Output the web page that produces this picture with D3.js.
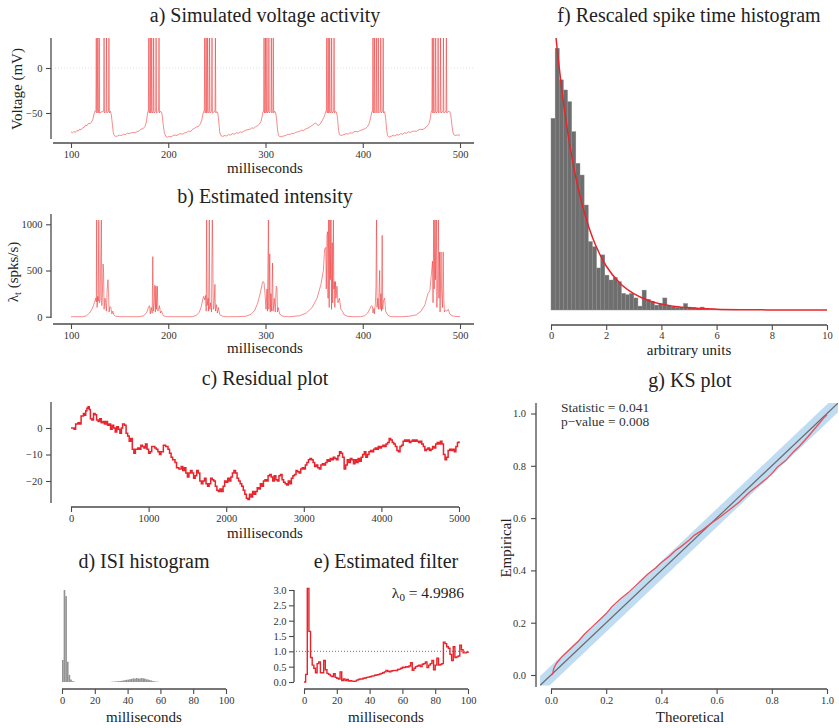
<!DOCTYPE html>
<html>
<head>
<meta charset="utf-8">
<script src="https://cdn.jsdelivr.net/npm/d3@7"></script>
<style>
  body { margin: 0; background: #fff; }
  svg { display: block; }
</style>
</head>
<body>
<svg id="fig" width="839" height="728"></svg>
<script>
// ---------------- data ----------------

// a) membrane voltage, [ms, mV]; spike peaks run off the top of the panel
const voltageTrace = [
[100,-71],[101.5,-72],[103,-70.5],[104.5,-71.5],[106,-69.5],[107.5,-70],[109,-68],[110.5,-68.5],[112,-66.5],[113.5,-66],[115,-63.5],[116.5,-64],[118,-61.5],[119.5,-62],[121,-60],[122.5,-57],[123.5,-52],[124.5,-48],
[125.6,-48],[126,38],[126.4,-50],[127.1,-48],[127.5,38],[127.9,-50],[128.6,-48],[129,38],[129.4,-50],[131,-49],[133.6,-48],[134,38],[134.4,-50],[136.1,-48],[136.5,38],[136.9,-50],[138.6,-48],[139,38],[139.4,-50],
[140.5,-48],[141.5,-52],[142.5,-62],[143.5,-72],[144.5,-75],[146,-76],[148,-75.5],[150,-74.5],[152,-75],[154,-73.5],[156,-74],[158,-72.5],[160,-73],[162,-72],[164,-71.5],[166,-72],[168,-70.5],[170,-70],[172,-68],[174,-67.5],[176,-65],[177.5,-60],[178.5,-52],[179.2,-48],
[179.6,-48],[180,38],[180.4,-50],[181.1,-48],[181.5,38],[181.9,-50],[182.6,-48],[183,38],[183.4,-50],[184.6,-48],[185,38],[185.4,-50],[187.1,-48],[187.5,38],[187.9,-50],[190.1,-48],[190.5,38],[190.9,-50],
[192,-48],[193.5,-50],[194.5,-60],[196,-72],[197.5,-76],[199,-77],[201,-76],[203,-76.5],[205,-75],[207,-74.5],[209,-75],[211,-73.5],[213,-73],[215,-73.5],[217,-72],[219,-71.5],[221,-70],[223,-70.5],[225,-68],[227,-67],[229,-65.5],[231,-65],[233,-62],[234.5,-58],[235.5,-52],[236.5,-48],
[237.1,-48],[237.5,38],[237.9,-50],[238.6,-48],[239,38],[239.4,-50],[240.1,-48],[240.5,38],[240.9,-50],[242.1,-48],[242.5,38],[242.9,-50],[244.6,-48],[245,38],[245.4,-50],[248.1,-48],[248.5,38],[248.9,-50],
[250,-48.5],[251,-50],[252,-60],[253,-72],[254.5,-75.5],[256,-76],[258,-75],[260,-75.5],[262,-74],[264,-74.5],[266,-73],[268,-73.5],[270,-72],[272,-72.5],[274,-71],[276,-71.5],[278,-70],[280,-69],[282,-68.5],[284,-68],[286,-66.5],[288,-67],[290,-65],[292,-64],[294,-62],[295.5,-59],[296.5,-54],[297.5,-48],
[298.1,-48],[298.5,38],[298.9,-50],[299.6,-48],[300,38],[300.4,-50],[301.1,-48],[301.5,38],[301.9,-50],[303.1,-48],[303.5,38],[303.9,-50],[305.6,-48],[306,38],[306.4,-50],[307.6,-48],[308,38],[308.4,-50],
[309.5,-48],[310.5,-50],[311.5,-58],[312.5,-70],[313.5,-75],[315,-76.5],[317,-76],[319,-75.5],[321,-75],[323,-73.5],[325,-74],[327,-72.5],[329,-73],[331,-71.5],[333,-71],[335,-70.5],[337,-69],[339,-69.5],[341,-68],[343,-67],[345,-66],[347,-64.5],[349,-63],[351,-61],[352.5,-62],[354,-64],[355.5,-63],[357,-61],[358.5,-58],[360,-55],[361,-52],[362,-48],
[362.6,-48],[363,38],[363.4,-50],[364.1,-48],[364.5,38],[364.9,-50],[365.6,-48],[366,38],[366.4,-50],[367.6,-48],[368,38],[368.4,-50],[370.1,-48],[370.5,38],[370.9,-50],
[372,-48],[373,-49],[374,-55],[375,-68],[376,-74],[377.5,-75],[379,-74.5],[381,-74],[383,-73],[385,-73.5],[387,-72],[389,-72.5],[391,-71],[393,-70.5],[395,-71],[397,-69.5],[399,-69],[401,-68],[403,-67],[405,-65],[406.5,-62],[407.5,-58],[408.5,-53],[409.5,-48],
[410.1,-48],[410.5,38],[410.9,-50],[411.6,-48],[412,38],[412.4,-50],[413.6,-48],[414,38],[414.4,-50],[415.6,-48],[416,38],[416.4,-50],[418.1,-48],[418.5,38],[418.9,-50],[420.6,-48],[421,38],[421.4,-50],
[422.5,-48.5],[423.5,-55],[424.5,-68],[425.5,-75],[427,-77],[429,-76],[431,-75],[433,-75.5],[435,-74],[437,-74.5],[439,-73],[441,-73.5],[443,-72],[445,-72.5],[447,-71],[449,-71.5],[451,-70.5],[453,-70],[455,-70.5],[457,-69],[459,-68],[461,-68.5],[463,-67.5],[465,-66],[466.5,-64],[468,-62],[469.5,-56],[470.5,-48],
[471.1,-48],[471.5,38],[471.9,-50],[472.6,-48],[473,38],[473.4,-50],[474.6,-48],[475,38],[475.4,-50],[477.1,-48],[477.5,38],[477.9,-50],[479.6,-48],[480,38],[480.4,-50],[482.6,-48],[483,38],[483.4,-50],[485.6,-48],[486,38],[486.4,-50],
[488,-48],[489.5,-48.5],[490.5,-52],[491.5,-62],[492.5,-70],[493.5,-74],[495,-75],[497,-74.5],[499,-74.5],[500,-74.5]
];
const voltageTicks = [-50, 0];
const timeTicks = [100, 200, 300, 400, 500];

// b) conditional intensity, [ms, spikes/s]; values above the panel top are clipped
const intensityTrace = [
[100,0],[112,0],[116,10],[119,40],[122,90],[124,150],[125.5,200],[126,160],[126.4,1100],[126.8,100],[127.5,220],[128,170],[128.6,1100],[129.1,150],[130,180],[131.2,1100],[131.7,120],[132.4,300],[133,570],[133.5,480],[134,80],[135,200],[135.7,150],[136.4,60],[137.2,300],[138,400],[138.6,250],[139.2,50],[140,110],[141,100],[142,30],[143,60],[144,20],[146,5],[150,0],
[170,0],[175,10],[178,50],[180,110],[180.8,120],[181.5,30],[182.5,100],[183.5,40],[184.1,650],[184.6,60],[185.5,150],[186.2,340],[186.7,50],[187.4,330],[187.9,80],[188.8,330],[189.3,60],[190.2,80],[191,120],[192,40],[193,60],[195,10],[198,0],
[225,0],[229,15],[232,50],[234,110],[235.5,190],[236.5,220],[237.5,180],[238.5,230],[239,60],[239.5,1100],[240,120],[241,200],[241.5,60],[242.2,1100],[242.7,80],[243.5,150],[244.5,50],[245.3,1100],[245.8,700],[246.3,80],[247,100],[248,350],[248.5,60],[249.5,130],[250.5,40],[251.5,100],[253,20],[256,5],[260,0],
[270,0],[280,5],[285,25],[289,70],[292,150],[294.5,250],[296.5,350],[297.3,380],[298.5,370],[299.5,250],[300.5,80],[301.5,300],[302,60],[303,1100],[303.5,80],[304.4,680],[304.9,50],[305.6,250],[306.3,60],[307.2,580],[307.8,60],[309,200],[310,50],[311,330],[311.8,320],[312.3,50],[313,100],[314.5,30],[317,8],[322,0],
[325,0],[335,10],[342,40],[348,100],[353,200],[357,350],[359.5,500],[360.8,730],[362,750],[362.5,300],[363.2,880],[363.8,920],[364.3,200],[365,1100],[365.5,100],[366.2,1100],[366.7,400],[367.4,1100],[367.9,80],[368.6,800],[369.1,150],[369.8,1100],[370.3,300],[370.8,380],[371.3,100],[372,380],[372.5,200],[373.5,330],[374.5,150],[376,200],[377.5,80],[379,60],[381,20],[384,5],[390,0],
[398,0],[402,10],[405,40],[407.5,90],[409,120],[410,110],[410.5,40],[411.5,90],[412,30],[413,150],[413.6,320],[414.2,1100],[414.7,100],[415.5,200],[416.2,80],[417.4,500],[417.9,80],[418.7,250],[419.3,60],[420,880],[420.5,80],[421.5,180],[422.5,200],[423.5,60],[424.5,40],[426,15],[429,0],
[440,0],[448,5],[455,20],[460,60],[464,130],[467,250],[469,280],[470.5,450],[471.7,600],[472.3,150],[473,1100],[473.5,300],[474.3,1100],[474.8,400],[475.7,1100],[476.2,100],[477,400],[477.8,1100],[478.3,200],[479,700],[479.5,50],[480.5,700],[481,300],[482,100],[482.7,700],[483.3,200],[484,50],[485,70],[486.5,60],[488,80],[489.5,30],[492,10],[496,2],[500,0]
];
const intensityTicks = [0, 500, 1000];

// c) time-rescaled residual, [ms, residual]
const residualTrace = [
[0,0],[40,-0.5],[60,1.5],[90,2],[110,1.5],[130,4.5],[160,5.5],[175,4.8],[190,6.5],[205,7.5],[220,8],[235,7],[250,3.5],[270,3],[290,5.5],[310,5],[330,3],[350,2.5],[370,3.5],[390,2],[410,2.5],[430,1.5],[450,2.5],[470,1],[490,1.5],[510,-0.5],[530,1],[550,0],[570,-1.5],[590,0.5],[610,-0.5],[630,-2],[650,0],[665,1.5],[690,1],[710,-2],[730,-3],[750,-5],[770,-4],[790,-8],[810,-9.5],[830,-8],[860,-7.5],[880,-8],[900,-6.5],[920,-7],[940,-7.5],[960,-6],[980,-8],[1000,-9.5],[1020,-9],[1040,-7],[1060,-7],[1080,-7.5],[1100,-8],[1120,-9],[1140,-10],[1160,-9],[1190,-6.5],[1220,-7],[1250,-8],[1270,-9.5],[1290,-11],[1310,-12],[1340,-13],[1360,-15],[1390,-15.5],[1420,-14.5],[1440,-16],[1460,-15],[1480,-17],[1500,-18.5],[1520,-17],[1540,-16],[1560,-17],[1580,-19],[1600,-18],[1620,-16],[1640,-17],[1660,-20],[1680,-21],[1700,-20],[1720,-19],[1740,-21],[1760,-22],[1780,-21],[1800,-19],[1820,-19.5],[1840,-20],[1860,-22],[1880,-23.5],[1900,-24],[1920,-23],[1940,-24],[1960,-22],[1980,-20],[2000,-20.5],[2020,-19],[2040,-20],[2060,-18.5],[2080,-17],[2100,-16],[2120,-17],[2140,-19],[2160,-20],[2180,-21],[2200,-22],[2220,-23.5],[2240,-25],[2260,-26.5],[2280,-27],[2300,-25],[2320,-26],[2340,-24],[2360,-25],[2380,-24],[2400,-22.5],[2420,-23],[2440,-21],[2460,-22],[2480,-20],[2500,-19.5],[2520,-20],[2540,-18],[2560,-17.5],[2580,-18.5],[2600,-20],[2620,-18],[2640,-19.5],[2660,-20],[2680,-18],[2700,-17.5],[2720,-19.5],[2740,-20.5],[2760,-21],[2780,-21.5],[2800,-20],[2820,-21],[2840,-19],[2860,-18],[2880,-17.5],[2900,-16],[2920,-16.5],[2940,-17],[2960,-15.5],[2980,-15],[3000,-15.5],[3020,-14],[3040,-13],[3060,-12],[3080,-11.5],[3100,-12],[3120,-13],[3140,-14.5],[3160,-14],[3180,-15],[3200,-15.5],[3220,-14],[3240,-13.5],[3260,-14],[3280,-13],[3300,-12],[3320,-12.5],[3340,-11.5],[3360,-12],[3380,-11],[3400,-11.5],[3420,-12],[3440,-10.5],[3460,-9],[3480,-9.5],[3500,-11],[3520,-15.5],[3540,-14],[3560,-12],[3580,-13],[3600,-11.5],[3620,-12],[3640,-13.5],[3660,-12],[3680,-13],[3700,-11.5],[3720,-12.5],[3740,-11],[3760,-10],[3780,-9],[3800,-11],[3820,-10],[3840,-9],[3860,-8.5],[3880,-9],[3900,-8],[3920,-7.5],[3940,-8],[3960,-7],[3980,-7.5],[4000,-7],[4020,-6.5],[4040,-7],[4060,-6],[4080,-5.5],[4100,-4],[4120,-4.5],[4140,-5.5],[4160,-6],[4180,-7],[4200,-8.5],[4220,-9],[4240,-7],[4260,-6.5],[4280,-5],[4300,-4.5],[4320,-5],[4340,-4.5],[4360,-5.5],[4380,-5],[4400,-4.5],[4420,-5],[4440,-4.5],[4460,-5],[4480,-5.5],[4500,-5],[4520,-6],[4540,-7],[4560,-8.5],[4580,-8],[4600,-7.5],[4620,-8.5],[4640,-8],[4660,-7],[4680,-7.5],[4700,-6],[4720,-5.5],[4740,-6],[4760,-5],[4780,-6],[4800,-10],[4820,-12],[4840,-11],[4860,-8.5],[4880,-8],[4900,-8.5],[4920,-8],[4940,-9],[4960,-7],[4980,-5.5],[5000,-5]
];
const residualTicksY = [-20, -10, 0];
const residualTicksX = [0, 1000, 2000, 3000, 4000, 5000];

// d) inter-spike intervals: 1 ms bins (lower edge, count)
const isiBinEdges = [0,1,2,3,4,5,6,7,30,31,32,33,34,35,36,37,38,39,40,41,42,43,44,45,46,47,48,49,50,51,52,53,54,55,56,57,58];
const isiCounts   = [72,300,280,66,23,8,3,1,1,1,2,2,3,3,4,5,6,7,8,9,10,12,11,13,12,11,13,12,11,9,8,6,5,3,2,1,1];
const isiBinWidth = 1;
const msTicks = [0, 20, 40, 60, 80, 100];

// e) history filter, value per 1 ms lag (0..100)
const filterLag = d3.range(0, 101);
const filterValue = [
0,0.25,3.05,1.65,0.8,0.55,0.45,0.3,0.6,0.65,0.3,0.3,0.7,0.4,0.28,0.25,0.2,0.18,0.27,0.15,
0.12,0.1,0.33,0.05,0.1,0.05,0.08,0.03,0.04,0.03,0.02,0.03,0.06,0.08,0.1,0.1,0.12,0.13,0.15,0.16,
0.17,0.19,0.2,0.22,0.23,0.24,0.26,0.28,0.3,0.33,0.38,0.35,0.33,0.36,0.37,0.38,0.37,0.41,0.42,0.45,
0.48,0.47,0.5,0.49,0.52,0.63,0.38,0.45,0.5,0.52,0.55,0.5,0.58,0.6,0.65,0.47,0.55,0.6,0.7,0.4,
0.55,0.78,0.55,0.57,0.6,1.3,1.25,1.15,1.1,0.9,0.7,1.15,0.8,0.82,0.85,1.2,1.05,0.95,0.95,0.97,1.0
];
const filterTicks = [0, 0.5, 1, 1.5, 2, 2.5, 3];
const baselineRate = "4.9986";

// f) rescaled inter-spike intervals: density per 0.15-unit bin, and the fitted exponential density
const rescaledBinWidth = 0.15;
const rescaledDensity = [
0.588,0.803,0.706,0.675,0.639,0.547,0.45,0.414,0.322,0.21,0.194,0.129,0.169,0.107,0.092,0.1,0.087,0.051,0.047,0.051,
0.037,0.012,0.061,0.033,0.027,0.015,0.02,0.037,0.015,0.01,0.008,0.009,0.02,0.009,0.007,0.004,0.009,0.003,0.002,0.002,
0.001,0.002,0.001,0.001,0.001
];
const expFit = [[0.15,0.861],[0.25,0.779],[0.4,0.670],[0.6,0.549],[0.8,0.449],[1.0,0.368],[1.25,0.287],[1.5,0.223],[1.75,0.174],[2.0,0.135],[2.5,0.082],[3.0,0.050],[3.5,0.030],[4.0,0.018],[4.5,0.011],[5.0,0.0067],[6.0,0.0025],[7.0,0.0009],[8.0,0.0003],[9.0,0.0001],[10.0,0.00005]];
const unitTicks = [0, 2, 4, 6, 8, 10];

// g) KS plot: empirical vs theoretical quantiles, with the 95% band
const ksTheoretical = [0.005,0.01,0.02,0.04,0.06,0.08,0.1,0.12,0.15,0.18,0.2,0.22,0.25,0.28,0.3,0.33,0.35,0.38,0.4,0.43,0.45,0.47,0.5,0.52,0.55,0.58,0.6,0.62,0.65,0.68,0.7,0.72,0.75,0.78,0.8,0.82,0.85,0.88,0.9,0.93,0.95,0.97,0.99,1.0];
const ksEmpirical   = [0,0.025,0.045,0.07,0.09,0.11,0.13,0.155,0.185,0.215,0.235,0.26,0.29,0.315,0.335,0.365,0.385,0.41,0.43,0.455,0.475,0.49,0.515,0.535,0.555,0.58,0.595,0.61,0.635,0.66,0.68,0.7,0.725,0.75,0.77,0.795,0.82,0.855,0.875,0.91,0.935,0.96,0.985,0.995];
const ksDiagonal = [-0.04, 1.04];
const ksBandHalfWidth = 0.035;
const ksStatistic = "0.041";
const ksPValue = "0.008";
const ksTicks = [0, 0.2, 0.4, 0.6, 0.8, 1];

// ---------------- drawing ----------------
const FONT = '"Liberation Serif", "Times New Roman", serif';
const AXIS = "#4a4a4a";
const fig = d3.select("#fig").attr("font-family", FONT);

function title(x, y, txt) {
  fig.append("text").attr("x", x).attr("y", y).attr("text-anchor", "middle")
    .attr("font-size", 20).attr("fill", "#222").text(txt);
}
function label(x, y, txt, rotate) {
  const t = fig.append("text").attr("text-anchor", "middle").attr("font-size", 15).attr("fill", "#222");
  if (rotate) t.attr("transform", `translate(${x},${y}) rotate(-90)`);
  else t.attr("x", x).attr("y", y);
  t.text(txt);
  return t;
}
function styleAxis(g) {
  g.attr("font-family", FONT).attr("font-size", 10.5);
  g.selectAll(".tick line").attr("stroke", AXIS).attr("stroke-width", 1.1);
  g.selectAll(".tick text").attr("fill", "#333");
}
function bottomAxis(scale, ticks, fmt, y, x0, x1, pad = 2.5) {
  const g = fig.append("g").attr("transform", `translate(0,${y})`)
    .call(d3.axisBottom(scale).tickValues(ticks).tickFormat(fmt).tickSize(5).tickPadding(pad).tickSizeOuter(0));
  g.select(".domain").remove();
  g.append("line").attr("x1", x0).attr("x2", x1).attr("stroke", AXIS).attr("stroke-width", 1.3);
  styleAxis(g);
}
function leftAxis(scale, ticks, fmt, x, y0, y1, pad) {
  const g = fig.append("g").attr("transform", `translate(${x},0)`)
    .call(d3.axisLeft(scale).tickValues(ticks).tickFormat(fmt).tickSize(5).tickPadding(pad).tickSizeOuter(0));
  g.select(".domain").remove();
  g.append("line").attr("y1", y0).attr("y2", y1).attr("stroke", AXIS).attr("stroke-width", 1.3);
  styleAxis(g);
}
function clip(id, x, y, w, h) {
  fig.append("clipPath").attr("id", id).append("rect")
    .attr("x", x).attr("y", y).attr("width", w).attr("height", h);
  return `url(#${id})`;
}
const intFmt = d3.format("d");

// ---- a) Simulated voltage activity
{
  const x = d3.scaleLinear([100, 500], [71, 460]);
  const y = d3.scaleLinear([-50, 0], [113, 68]);
  title(265, 22, "a) Simulated voltage activity");
  fig.append("line").attr("x1", 55).attr("x2", 473).attr("y1", y(0)).attr("y2", y(0))
    .attr("stroke", "#d8d8d8").attr("stroke-width", 0.8).attr("stroke-dasharray", "1,2");
  fig.append("path").datum(voltageTrace)
    .attr("clip-path", clip("clipA", 53, 38, 421, 105))
    .attr("fill", "none").attr("stroke", "#ee3030").attr("stroke-opacity", 0.55).attr("stroke-width", 1)
    .attr("d", d3.line().x(d => x(d[0])).y(d => y(d[1])));
  leftAxis(y, voltageTicks, intFmt, 51, 38, 139, 3.5);
  bottomAxis(x, timeTicks, intFmt, 143, 53, 474);
  label(22, 89, "Voltage (mV)", true);
  label(265, 173, "milliseconds");
}

// ---- b) Estimated intensity
{
  const x = d3.scaleLinear([100, 500], [71, 460]);
  const y = d3.scaleLinear([0, 1000], [316.7, 224.3]);
  title(265, 203, "b) Estimated intensity");
  fig.append("path").datum(intensityTrace)
    .attr("clip-path", clip("clipB", 53, 220, 421, 104))
    .attr("fill", "none").attr("stroke", "#ee3030").attr("stroke-opacity", 0.55).attr("stroke-width", 1)
    .attr("d", d3.line().x(d => x(d[0])).y(d => y(d[1])));
  leftAxis(y, intensityTicks, intFmt, 51, 214, 318, 3.5);
  bottomAxis(x, timeTicks, intFmt, 324, 53, 474);
  const yl = fig.append("text").attr("transform", "translate(18,272) rotate(-90)")
    .attr("text-anchor", "middle").attr("font-size", 15).attr("fill", "#222");
  yl.append("tspan").text("λ");
  yl.append("tspan").attr("font-size", 10.5).attr("dy", 3).text("t");
  yl.append("tspan").attr("dy", -3).text(" (spks/s)");
  label(265, 353, "milliseconds");
}

// ---- c) Residual plot
{
  const x = d3.scaleLinear([0, 5000], [71, 459]);
  const y = d3.scaleLinear([-20, 0], [481, 428]);
  title(265, 385, "c) Residual plot");
  fig.append("path").datum(residualTrace)
    .attr("fill", "none").attr("stroke", "#e8232b").attr("stroke-width", 1.5)
    .attr("d", d3.line().curve(d3.curveStepAfter).x(d => x(d[0])).y(d => y(d[1])));
  leftAxis(y, residualTicksY, intFmt, 51, 402, 503, 3.5);
  bottomAxis(x, residualTicksX, intFmt, 507, 71, 459);
  label(265, 538, "milliseconds");
}

// ---- d) ISI histogram
{
  const x = d3.scaleLinear([0, 100], [62, 226]);
  const y = d3.scaleLinear([0, 300], [682, 590]);
  title(144, 568, "d) ISI histogram");
  fig.append("g").selectAll("rect").data(isiCounts).join("rect")
    .attr("x", (c, i) => x(isiBinEdges[i]))
    .attr("width", x(isiBinWidth) - x(0))
    .attr("y", c => y(c))
    .attr("height", c => y(0) - y(c))
    .attr("fill", "#939393");
  bottomAxis(x, msTicks, intFmt, 689, 62, 226);
  label(144, 722, "milliseconds");
}

// ---- e) Estimated filter
{
  const x = d3.scaleLinear([0, 100], [304, 468]);
  const y = d3.scaleLinear([0, 3], [682, 590]);
  title(386, 568, "e) Estimated filter");
  fig.append("line").attr("x1", 296).attr("x2", 470).attr("y1", y(1)).attr("y2", y(1))
    .attr("stroke", "#777").attr("stroke-width", 1).attr("stroke-dasharray", "1,2");
  fig.append("path").datum(filterLag)
    .attr("fill", "none").attr("stroke", "#e8232b").attr("stroke-width", 1.4)
    .attr("d", d3.line().curve(d3.curveStepAfter).x(d => x(d)).y((d, i) => y(filterValue[i])));
  leftAxis(y, filterTicks, d3.format(".1f"), 294, 590, 682, 2.5);
  bottomAxis(x, msTicks, intFmt, 689, 304, 468);
  const t = fig.append("text").attr("x", 464).attr("y", 598).attr("text-anchor", "end")
    .attr("font-size", 15.5).attr("fill", "#222");
  t.append("tspan").text("λ");
  t.append("tspan").attr("font-size", 11).attr("dy", 3).text("0");
  t.append("tspan").attr("dy", -3).text(" = " + baselineRate);
  label(386, 722, "milliseconds");
}

// ---- f) Rescaled spike time histogram
{
  const x = d3.scaleLinear([0, 10], [551, 827]);
  const y = d3.scaleLinear([0, 0.8], [310, 49.2]);
  title(689, 22, "f) Rescaled spike time histogram");
  fig.append("g").selectAll("rect").data(rescaledDensity).join("rect")
    .attr("x", (d, i) => x(i * rescaledBinWidth))
    .attr("width", x(rescaledBinWidth) - x(0))
    .attr("y", d => y(d))
    .attr("height", d => y(0) - y(d))
    .attr("fill", "#6e6e6e").attr("stroke", "#8a8a8a").attr("stroke-width", 0.4);
  fig.append("path").datum(expFit)
    .attr("clip-path", clip("clipF", 545, 38, 290, 280))
    .attr("fill", "none").attr("stroke", "#e8232b").attr("stroke-width", 1.5)
    .attr("d", d3.line().curve(d3.curveMonotoneX).x(d => x(d[0])).y(d => y(d[1])));
  bottomAxis(x, unitTicks, intFmt, 325, 551, 827, 2);
  label(689, 354.5, "arbitrary units");
}

// ---- g) KS plot
{
  const x = d3.scaleLinear([0, 1], [551, 827]);
  const y = d3.scaleLinear([0, 1], [675, 413.5]);
  title(690, 387, "g) KS plot");
  const cp = clip("clipG", x(-0.04), y(1.04), x(1.04) - x(-0.04), y(-0.04) - y(1.04));
  fig.append("path").datum(ksDiagonal).attr("clip-path", cp)
    .attr("fill", "#a9d0ee").attr("fill-opacity", 0.75)
    .attr("d", d3.area().x(d => x(d)).y0(d => y(d - ksBandHalfWidth)).y1(d => y(d + ksBandHalfWidth)));
  fig.append("path").datum(ksDiagonal).attr("clip-path", cp)
    .attr("fill", "none").attr("stroke", "#6a6a6a").attr("stroke-width", 1.2)
    .attr("d", d3.line().x(d => x(d)).y(d => y(d)));
  fig.append("path").datum(ksTheoretical)
    .attr("fill", "none").attr("stroke", "#e8505a").attr("stroke-width", 1.3)
    .attr("d", d3.line().x(d => x(d)).y((d, i) => y(ksEmpirical[i])));
  leftAxis(y, ksTicks, d3.format(".1f"), 536, 403, 687, 5);
  bottomAxis(x, ksTicks, d3.format(".1f"), 689, 551, 827);
  const stats = fig.append("text").attr("font-size", 13.5).attr("fill", "#333");
  stats.append("tspan").attr("x", 561).attr("y", 411.5).text("Statistic = " + ksStatistic);
  stats.append("tspan").attr("x", 561).attr("y", 426).text("p\u2212value = " + ksPValue);
  label(511, 548, "Empirical", true);
  label(690, 722, "Theoretical");
}
</script>
</body>
</html>
